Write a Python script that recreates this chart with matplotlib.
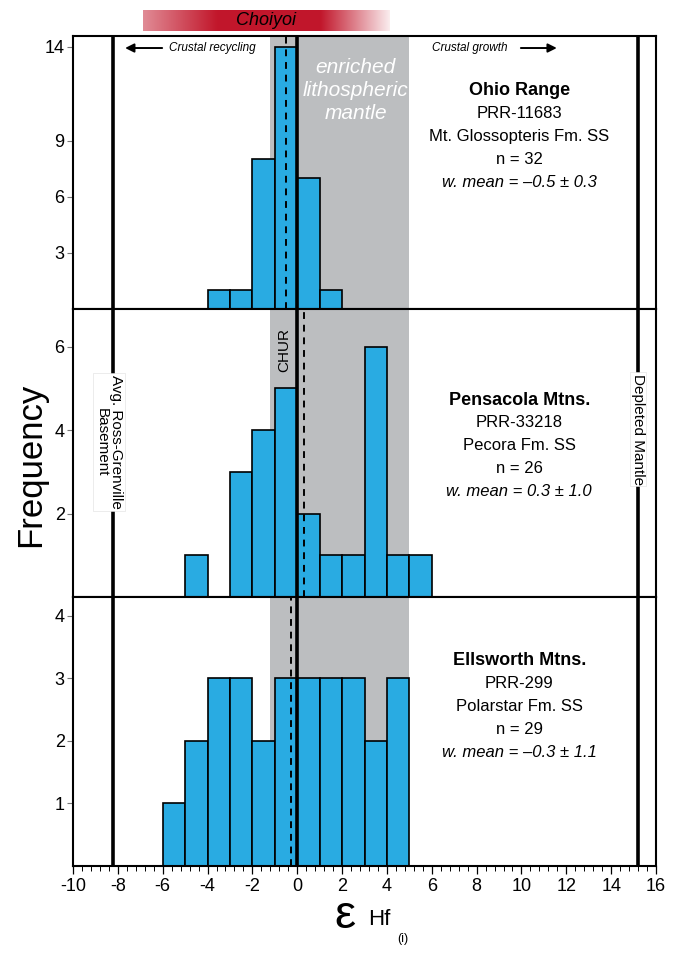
import numpy as np
import matplotlib.pyplot as plt
from matplotlib.ticker import FixedLocator

plt.rcParams['font.family'] = ['Liberation Sans', 'DejaVu Sans']
plt.rcParams['axes.unicode_minus'] = False

# histogram bins (1 epsilon unit wide) and counts
ohio_edges = np.arange(-4, 3)
ohio_counts = [1, 1, 8, 14, 7, 1]
pens_edges = np.arange(-5, 7)
pens_counts = [1, 0, 3, 4, 5, 2, 1, 1, 6, 1, 1]
ells_edges = np.arange(-6, 6)
ells_counts = [1, 2, 3, 3, 2, 3, 3, 3, 3, 2, 3]

names = ['Ohio Range', 'Pensacola Mtns.', 'Ellsworth Mtns.']
samples = ['PRR-11683', 'PRR-33218', 'PRR-299']
formations = ['Mt. Glossopteris Fm. SS', 'Pecora Fm. SS', 'Polarstar Fm. SS']
n_grains = [32, 26, 29]
w_means = [-0.5, 0.3, -0.3]
w_errs = [0.3, 1.0, 1.1]

ross_grenville = -8.2
depleted_mantle = 15.2
chur = 0.0
elm_band = (-1.2, 5.0)
choiyoi = (-6.9, 4.1)

ylims = [14.6, 6.9, 4.3]
yticks = [[3, 6, 9, 14], [2, 4, 6], [1, 2, 3, 4]]

blue = '#29abe2'
grey = '#bcbec0'

fig = plt.figure(figsize=(6.75, 9.55), dpi=100)
left, width = 73 / 675, 583 / 675
boxes = [(0.6764, 0.2862), (0.3749, 0.3015), (0.0932, 0.2817)]
text_top = [0.80, 0.684, 0.762]

data = [(ohio_edges, ohio_counts), (pens_edges, pens_counts), (ells_edges, ells_counts)]
axes = []
for i, (b, h) in enumerate(boxes):
    ax = fig.add_axes([left, b, width, h])
    axes.append(ax)
    edges, counts = data[i]
    ax.axvspan(*elm_band, color=grey, lw=0, zorder=0)
    ax.bar(edges[:-1], counts, width=1, align='edge', color=blue,
           edgecolor='black', lw=1.2, zorder=2)
    ax.axvline(chur, color='black', lw=2.6, zorder=4)
    ax.axvline(ross_grenville, color='black', lw=2.6, zorder=3)
    ax.axvline(depleted_mantle, color='black', lw=2.6, zorder=3)
    ax.axvline(w_means[i], color='black', lw=1.4, ls=(0, (3.5, 3)), zorder=5)
    ax.set_xlim(-10, 16)
    ax.set_ylim(0, ylims[i])
    ax.set_yticks(yticks[i])
    ax.tick_params(axis='y', length=4, width=0.8, color='#777777', labelsize=13, pad=2)
    for s in ax.spines.values():
        s.set_linewidth(1.5)

    if w_means[i] < 0:
        mean_txt = 'w. mean = \u2013%.1f \u00b1 %.1f' % (abs(w_means[i]), w_errs[i])
    else:
        mean_txt = 'w. mean = %.1f \u00b1 %.1f' % (w_means[i], w_errs[i])
    lines = [(names[i], 'bold', 'normal', 13),
             (samples[i], 'normal', 'normal', 12),
             (formations[i], 'normal', 'normal', 12),
             ('n = %d' % n_grains[i], 'normal', 'normal', 12),
             (mean_txt, 'normal', 'italic', 12)]
    for k, (txt, wt, st, fs) in enumerate(lines):
        ax.annotate(txt, xy=(9.9, text_top[i]), xycoords=('data', 'axes fraction'),
                    xytext=(0, -16.5 * k), textcoords='offset points',
                    ha='center', va='center', fontsize=fs, fontweight=wt, fontstyle=st)

for ax in axes[:2]:
    ax.tick_params(axis='x', bottom=False, labelbottom=False)

ax = axes[2]
ax.xaxis.set_major_locator(FixedLocator(np.arange(-10, 17, 2)))
ax.xaxis.set_minor_locator(FixedLocator(np.arange(-10, 16.01, 0.4)))
ax.tick_params(axis='x', which='major', length=6, width=0.9, labelsize=13, pad=3)
ax.tick_params(axis='x', which='minor', length=3.5, width=0.7)

# top panel annotations
ax = axes[0]
ax.text(2.6, 0.80, 'enriched\nlithospheric\nmantle', transform=ax.get_xaxis_transform(),
        ha='center', va='center', color='white', fontsize=15, fontstyle='italic',
        linespacing=1.25, zorder=6)
ax.annotate('', xy=(-7.8, 0.955), xytext=(-5.9, 0.955), xycoords=('data', 'axes fraction'),
            arrowprops=dict(arrowstyle='-|>', lw=1.4, color='black', mutation_scale=13))
ax.text(-5.7, 0.955, 'Crustal recycling', transform=ax.get_xaxis_transform(),
        ha='left', va='center', fontsize=8.5, fontstyle='italic')
ax.text(6.0, 0.955, 'Crustal growth', transform=ax.get_xaxis_transform(),
        ha='left', va='center', fontsize=8.5, fontstyle='italic')
ax.annotate('', xy=(11.7, 0.955), xytext=(9.85, 0.955), xycoords=('data', 'axes fraction'),
            arrowprops=dict(arrowstyle='-|>', lw=1.4, color='black', mutation_scale=13))

# middle panel labels
ax = axes[1]
ax.text(-0.6, 0.858, 'CHUR', transform=ax.get_xaxis_transform(), rotation=90,
        ha='center', va='center', fontsize=11, zorder=6)
ax.text(-8.4, 0.538, 'Avg. Ross-Grenville\nBasement', transform=ax.get_xaxis_transform(),
        rotation=270, ha='center', va='center', fontsize=11, linespacing=1.0,
        bbox=dict(facecolor='white', edgecolor='#dddddd', lw=0.4, pad=1.5), zorder=6)
ax.text(15.2, 0.583, 'Depleted Mantle', transform=ax.get_xaxis_transform(),
        rotation=270, ha='center', va='center', fontsize=11,
        bbox=dict(facecolor='white', edgecolor='#dddddd', lw=0.4, pad=1.0), zorder=6)

# Choiyoi gradient bar
axc = fig.add_axes([left, 1 - 31 / 955, width, 21 / 955])
axc.set_xlim(-10, 16)
axc.set_ylim(0, 1)
axc.axis('off')
t = np.linspace(0, 1, 300)
w = np.interp(t, [0, 0.3, 0.72, 1], [0.5, 1, 1, 0.08])
crimson = np.array([0.76, 0.09, 0.17])
grad = (1 - w)[:, None] * np.ones(3) + w[:, None] * crimson
axc.imshow(grad[None, :, :], extent=(choiyoi[0], choiyoi[1], 0, 1), aspect='auto')
axc.text(np.mean(choiyoi), 0.5, 'Choiyoi', ha='center', va='center',
         fontsize=13, fontstyle='italic')

fig.text(0.045, 0.513, 'Frequency', rotation=90, ha='center', va='center', fontsize=25)
fig.text(0.496, 1 - 928 / 955, '\u03b5', ha='left', va='baseline', fontsize=34)
fig.text(0.545, 1 - 925 / 955, 'Hf', ha='left', va='baseline', fontsize=16)
fig.text(0.589, 1 - 942 / 955, '(i)', ha='left', va='baseline', fontsize=9)

fig.savefig('out.png', dpi=100)
